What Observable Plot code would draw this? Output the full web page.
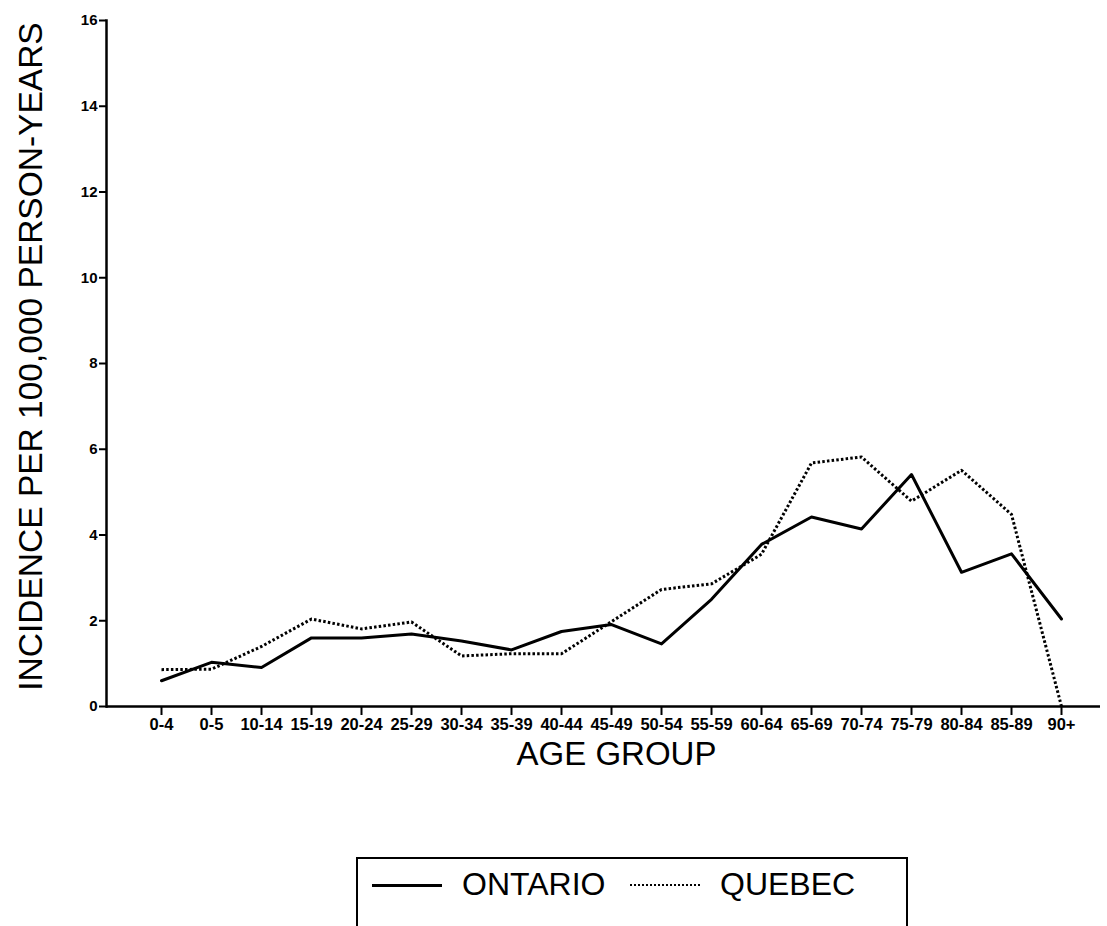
<!DOCTYPE html>
<html>
<head>
<meta charset="utf-8">
<script src="https://cdn.jsdelivr.net/npm/d3@7"></script>
<script src="https://cdn.jsdelivr.net/npm/@observablehq/plot@0.6"></script>
<style>
  html, body { margin: 0; padding: 0; background: #fff; }
  body { width: 1107px; height: 926px; overflow: hidden; position: relative; font-family: "Liberation Sans", Arial, sans-serif; }
  #chart svg { display: block; }
  g[aria-label$="tick label"] text { font-weight: bold; }
  #legend {
    position: absolute; left: 356px; top: 857px; width: 552px; height: 120px;
    border: 2px solid #000; box-sizing: border-box; background: #fff;
  }
  #legend .item { position: absolute; top: 7px; font-size: 32px; line-height: 36px; color: #000; }
  #legend .sw { position: absolute; top: 25px; height: 0; }
</style>
</head>
<body>
<div id="chart"></div>
<div id="legend"></div>
<script>
const ages = ["0-4","0-5","10-14","15-19","20-24","25-29","30-34","35-39","40-44","45-49","50-54","55-59","60-64","65-69","70-74","75-79","80-84","85-89","90+"];
const ontario = [0.6,1.03,0.91,1.6,1.6,1.69,1.53,1.32,1.75,1.91,1.46,2.5,3.78,4.42,4.14,5.41,3.13,3.56,2.04];
const quebec  = [0.86,0.87,1.4,2.04,1.81,1.97,1.18,1.23,1.23,1.98,2.73,2.86,3.55,5.68,5.82,4.79,5.51,4.48,0];
const yTicks = [0,2,4,6,8,10,12,14,16];
const seriesNames = ["ONTARIO","QUEBEC"];
const yLabel = "INCIDENCE PER 100,000 PERSON-YEARS";
const xLabel = "AGE GROUP";

const rows = ages.flatMap((a, i) => [
  {age: a, value: ontario[i], series: seriesNames[0]},
  {age: a, value: quebec[i], series: seriesNames[1]}
]);

const plot = Plot.plot({
  width: 1107,
  height: 800,
  marginLeft: 106,
  marginRight: 7,
  marginTop: 20,
  marginBottom: 94,
  style: {fontFamily: "'Liberation Sans', Arial, sans-serif", color: "#000", background: "#fff"},
  x: {type: "point", domain: ages, range: [135, 1087]},
  y: {domain: [0, 16]},
  marks: [
    Plot.axisY({ticks: yTicks, tickSize: 7, tickPadding: 2, fontSize: 15, label: null, strokeWidth: 2}),
    Plot.axisX({tickSize: 9, tickPadding: 3, fontSize: 16.5, label: null, strokeWidth: 2}),
    Plot.frame({anchor: "left", strokeWidth: 2.5}),
    Plot.ruleY([0], {strokeWidth: 2.5}),
    Plot.line(rows.filter(d => d.series === seriesNames[0]), {x: "age", y: "value", stroke: "#000", strokeWidth: 3}),
    Plot.line(rows.filter(d => d.series === seriesNames[1]), {x: "age", y: "value", stroke: "#000", strokeWidth: 3, strokeDasharray: "2.5 2.2", strokeLinecap: "butt"}),
    Plot.text([xLabel], {frameAnchor: "bottom", dx: 13, dy: 58, fontSize: 33, fill: "#000"}),
    Plot.text([yLabel], {frameAnchor: "left", textAnchor: "middle", rotate: -90, dx: -75, dy: -7, fontSize: 33.5, fill: "#000"})
  ]
});
document.getElementById("chart").appendChild(plot);

// legend
const legend = document.getElementById("legend");
const legendItems = [
  {name: seriesNames[0], dash: "solid", swLeft: 14, swWidth: 70, textLeft: 104},
  {name: seriesNames[1], dash: "dotted", swLeft: 272, swWidth: 70, textLeft: 362}
];
for (const it of legendItems) {
  const sw = document.createElement("div");
  sw.className = "sw";
  sw.style.left = it.swLeft + "px";
  sw.style.width = it.swWidth + "px";
  sw.style.borderTop = it.dash === "solid" ? "3px solid #000" : "2px dotted #000";
  legend.appendChild(sw);
  const t = document.createElement("div");
  t.className = "item";
  t.style.left = it.textLeft + "px";
  t.textContent = it.name;
  legend.appendChild(t);
}
</script>
</body>
</html>
